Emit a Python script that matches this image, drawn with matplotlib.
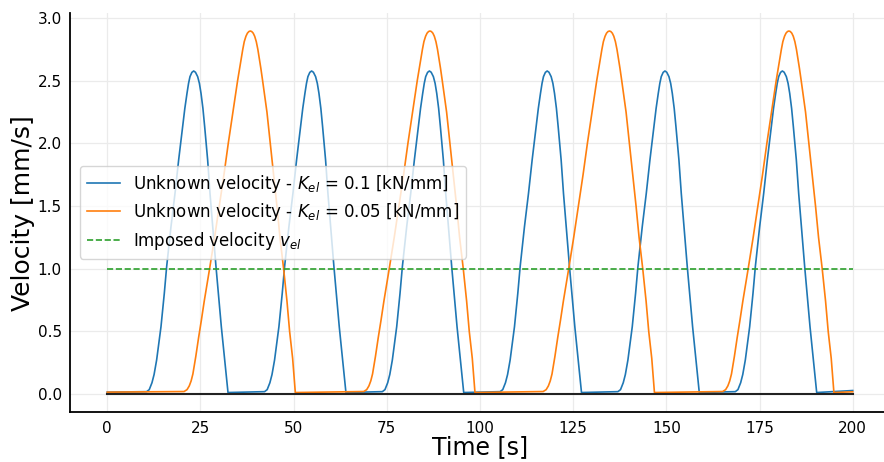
import matplotlib
matplotlib.use("Agg")
import matplotlib.pyplot as plt

# ---- data ----
# one slip pulse (offset from onset [s], velocity [mm/s]) for K_el = 0.1
blue_pulse_dt = [0.0, 0.7, 1.43, 2.0, 2.68, 3.3, 3.85, 4.74, 5.37, 6.53, 7.61, 8.59,
                 9.66, 10.25, 10.83, 11.25, 11.63, 12.14, 12.62, 13.1, 13.69, 14.15,
                 14.59, 15.1, 15.57, 16.37, 17.00, 17.72, 18.61, 19.24, 20.04, 20.94,
                 21.4, 21.83]
blue_pulse_v = [0.019, 0.035, 0.09, 0.156, 0.271, 0.411, 0.537, 0.803, 1.016, 1.335,
                1.601, 1.868, 2.134, 2.28, 2.400, 2.48, 2.533, 2.567, 2.578, 2.568,
                2.533, 2.48, 2.400, 2.28, 2.134, 1.868, 1.601, 1.335, 1.016, 0.803,
                0.537, 0.271, 0.13, 0.012]
blue_onsets = [10.56, 42.2, 73.8, 105.4, 137.0, 168.5]

# one slip pulse for K_el = 0.05
orange_pulse_dt = [0.0, 0.8, 1.4, 1.9, 2.37, 3.15, 3.90, 4.65, 5.42, 6.85, 8.19, 9.44,
                   10.70, 11.86, 13.11, 14.36, 15.35, 15.75, 16.15, 16.6, 17.0, 17.4,
                   17.77, 18.15, 18.55, 18.95, 19.38, 19.8, 20.18, 20.6, 21.08, 22.24,
                   23.13, 24.03, 24.92, 25.73, 26.71, 27.61, 28.32, 29.13, 29.5, 29.85]
orange_pulse_v = [0.020, 0.035, 0.065, 0.105, 0.16, 0.30, 0.45, 0.59, 0.742, 1.00,
                  1.25, 1.50, 1.75, 2.00, 2.25, 2.50, 2.679, 2.75, 2.812, 2.855, 2.88,
                  2.893, 2.897, 2.893, 2.88, 2.855, 2.812, 2.75, 2.679, 2.60, 2.50,
                  2.25, 2.00, 1.75, 1.50, 1.25, 1.00, 0.742, 0.50, 0.285, 0.15, 0.012]
orange_onsets = [20.6, 68.8, 116.95, 165.1]

t_start, t_end = 0.0, 200.0
blue_start_v, blue_end_v = 0.015, 0.028
orange_start_v, orange_end_v = 0.015, 0.018

imposed_t = [0.0, 200.0]
imposed_v = [1.0, 1.0]
zero_t = [0.0, 200.0]
zero_v = [0.0, 0.0]

labels = ["Unknown velocity - $K_{el}$ = 0.1 [kN/mm]",
          "Unknown velocity - $K_{el}$ = 0.05 [kN/mm]",
          "Imposed velocity $v_{el}$"]
xticks = [0, 25, 50, 75, 100, 125, 150, 175, 200]
yticks = [0.0, 0.5, 1.0, 1.5, 2.0, 2.5, 3.0]


def build(onsets, pdt, pv, v0, v1):
    t = [t_start]
    v = [v0]
    for on in onsets:
        for d, val in zip(pdt, pv):
            t.append(on + d)
            v.append(val)
    t.append(t_end)
    v.append(v1)
    return t, v


blue_t, blue_v = build(blue_onsets, blue_pulse_dt, blue_pulse_v, blue_start_v, blue_end_v)
orange_t, orange_v = build(orange_onsets, orange_pulse_dt, orange_pulse_v,
                           orange_start_v, orange_end_v)

fig = plt.figure(figsize=(8.84, 4.62), dpi=100)
ax = fig.add_axes([70 / 884, 49.8 / 462, 820 / 884, 399.1 / 462])

ax.plot(blue_t, blue_v, color="#1f77b4", lw=1.2, label=labels[0])
ax.plot(orange_t, orange_v, color="#ff7f0e", lw=1.2, label=labels[1])
ax.plot(imposed_t, imposed_v, color="#2ca02c", lw=1.2, ls="--", label=labels[2])
ax.plot(zero_t, zero_v, color="#222222", lw=1.5)

ax.set_xlim(-10, 210)
ax.set_ylim(-0.145, 3.04)
ax.set_xticks(xticks)
ax.set_yticks(yticks)
ax.set_yticklabels([f"{y:.1f}" for y in yticks])
ax.tick_params(axis="both", length=0, labelsize=11, pad=6)
ax.grid(True, color="#ebebeb", lw=0.9)
ax.set_axisbelow(True)

for s in ["top", "right"]:
    ax.spines[s].set_visible(False)
for s in ["left", "bottom"]:
    ax.spines[s].set_linewidth(1.3)
    ax.spines[s].set_color("black")

ax.set_xlabel("Time [s]", fontsize=17, labelpad=0)
ax.set_ylabel("Velocity [mm/s]", fontsize=18, labelpad=2)

ax.legend(loc="upper left", bbox_to_anchor=(0.0122, 0.617), borderaxespad=0,
          fontsize=12, framealpha=0.8, labelspacing=0.4)

fig.savefig("out.png", dpi=100)
